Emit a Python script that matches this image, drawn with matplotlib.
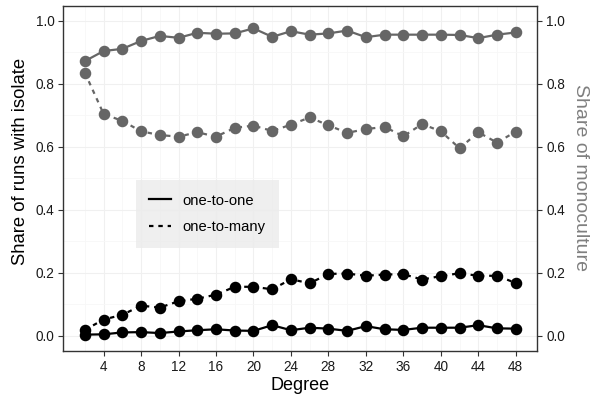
import matplotlib
matplotlib.use("Agg")
import matplotlib.pyplot as plt
from matplotlib.lines import Line2D
import numpy as np

plt.rcParams['font.family'] = ['Liberation Sans', 'DejaVu Sans']

degree = np.arange(2, 49, 2)

# share of monoculture (grey, right axis)
mono_one = [0.872, 0.904, 0.911, 0.936, 0.952, 0.946, 0.962, 0.959, 0.960, 0.976, 0.949, 0.967,
            0.956, 0.960, 0.969, 0.948, 0.956, 0.956, 0.956, 0.956, 0.955, 0.945, 0.956, 0.963]
mono_many = [0.835, 0.704, 0.682, 0.649, 0.637, 0.632, 0.646, 0.632, 0.660, 0.667, 0.650, 0.670,
             0.693, 0.668, 0.644, 0.656, 0.663, 0.633, 0.672, 0.649, 0.595, 0.646, 0.613, 0.648]

# share of runs with isolate (black, left axis)
iso_one = [0.003, 0.004, 0.010, 0.011, 0.008, 0.013, 0.017, 0.020, 0.016, 0.015, 0.033, 0.017,
           0.025, 0.022, 0.015, 0.030, 0.020, 0.018, 0.025, 0.025, 0.025, 0.033, 0.023, 0.022]
iso_many = [0.018, 0.051, 0.066, 0.095, 0.089, 0.109, 0.117, 0.130, 0.155, 0.155, 0.147, 0.179,
            0.166, 0.196, 0.197, 0.190, 0.194, 0.195, 0.178, 0.189, 0.198, 0.190, 0.190, 0.167]

grey = '#666666'
fig = plt.figure(figsize=(5.92, 3.99), dpi=100)
ax = fig.add_axes([0.107, 0.1203, 0.8006, 0.8654])

ms = 7.3
lw = 1.6
ax.plot(degree, mono_one, color=grey, lw=lw, marker='o', ms=ms, zorder=3)
ax.plot(degree, mono_many, color=grey, lw=lw, ls=(0, (2, 2.2)), marker='o', ms=ms, zorder=3)
ax.plot(degree, iso_one, color='black', lw=lw, marker='o', ms=ms, zorder=3)
ax.plot(degree, iso_many, color='black', lw=lw, ls=(0, (2, 2.2)), marker='o', ms=ms, zorder=3)

ax.set_xlim(-0.3, 50.3)
ax.set_ylim(-0.049, 1.048)
ax.set_xticks(np.arange(4, 49, 4))
ax.set_xticks(np.arange(2, 49, 4), minor=True)
ax.set_yticks(np.arange(0, 1.01, 0.2))
ax.set_yticks(np.arange(0.1, 1.0, 0.2), minor=True)
ax.set_yticklabels(['0.0', '0.2', '0.4', '0.6', '0.8', '1.0'])
ax.grid(True, which='major', color='#f0f0f0', lw=0.8, zorder=0)
ax.grid(True, which='minor', color='#f7f7f7', lw=0.6, zorder=0)
ax.tick_params(which='minor', length=0)
ax.tick_params(which='major', length=3.5, width=0.8, color='#333333', labelsize=9.8,
               labelcolor='#1a1a1a', direction='out', pad=3)
for s in ax.spines.values():
    s.set_color('#333333')
    s.set_linewidth(1.0)

ax.set_xlabel('Degree', fontsize=13, labelpad=2)

ax2 = ax.twinx()
ax2.set_ylim(ax.get_ylim())
ax2.set_yticks(np.arange(0, 1.01, 0.2))
ax2.set_yticklabels(['0.0', '0.2', '0.4', '0.6', '0.8', '1.0'])
ax2.tick_params(length=3.5, width=0.8, color='#333333', labelsize=9.8, labelcolor='#1a1a1a', pad=3)
for s in ax2.spines.values():
    s.set_visible(False)

fig.text(21 / 592, 1 - 161.5 / 399, 'Share of runs with isolate', fontsize=13.3,
         rotation=90, ha='center', va='center')
fig.text(580 / 592, 1 - 178 / 399, 'Share of monoculture', fontsize=14, color='#7f7f7f',
         rotation=270, ha='center', va='center')

handles = [Line2D([], [], color='black', lw=1.6),
           Line2D([], [], color='black', lw=1.6, ls=(0, (2, 2.2)))]
leg = ax.legend(handles, ['one-to-one', 'one-to-many'], loc='upper left',
                bbox_to_anchor=(0.153, 0.495), borderaxespad=0, fontsize=10.6, frameon=True,
                fancybox=False, handlelength=1.5, borderpad=0.92, labelspacing=0.85,
                handletextpad=0.75)
leg.get_frame().set_facecolor('#ebebeb')
leg.get_frame().set_edgecolor('none')

fig.savefig('out.png', dpi=100)
